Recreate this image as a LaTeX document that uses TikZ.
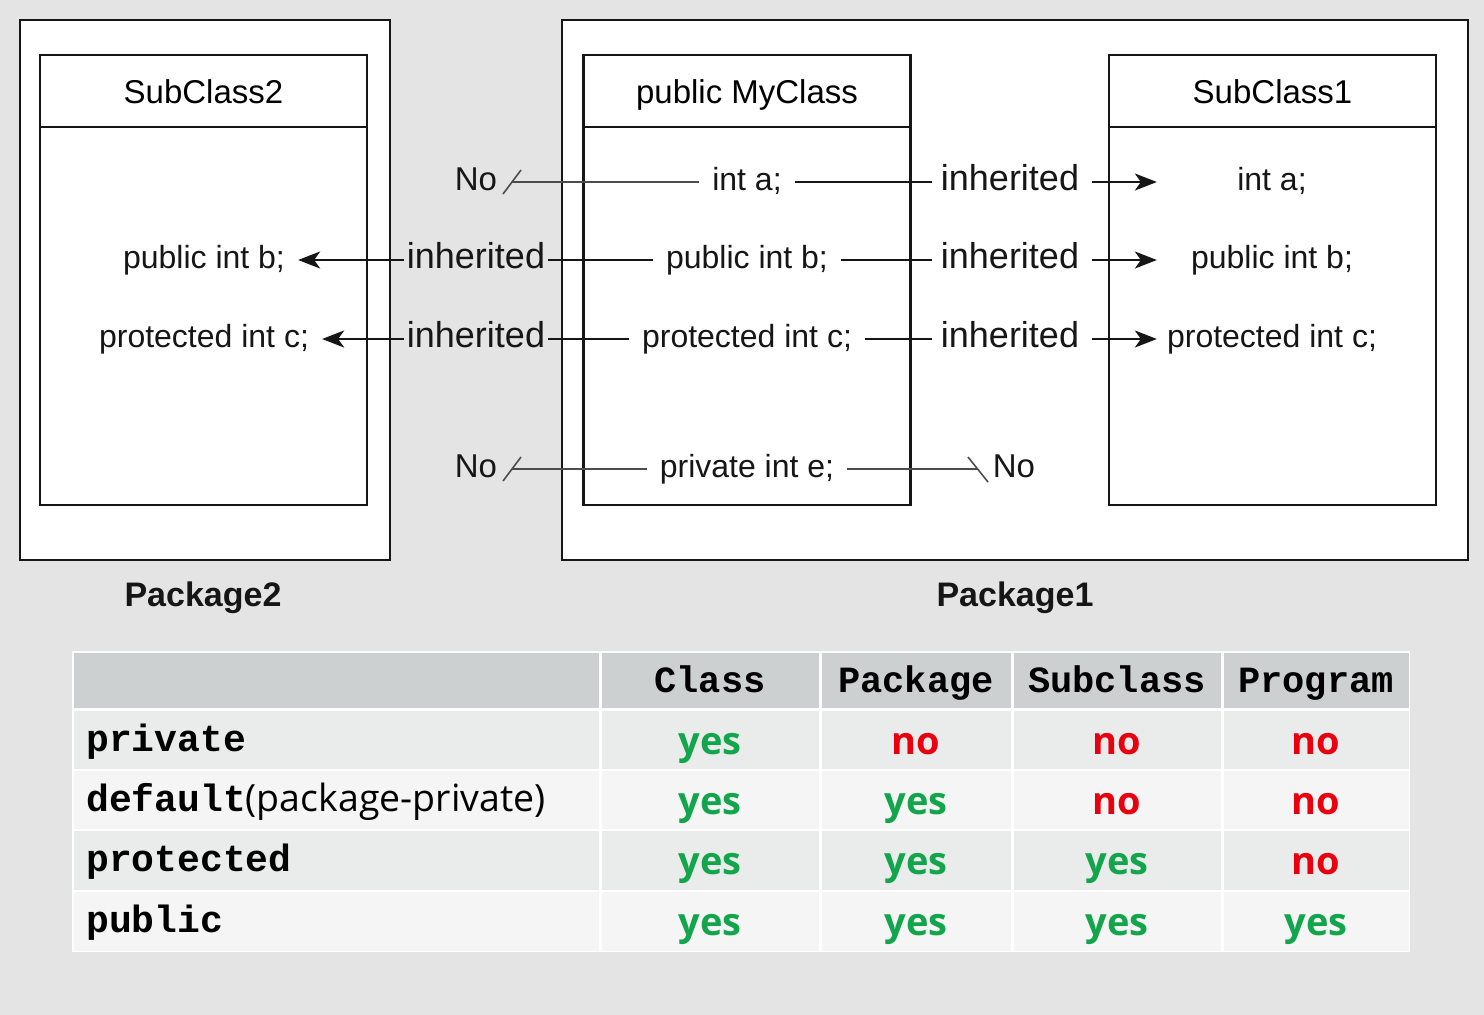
\documentclass[tikz,border=0pt]{standalone}
\usepackage{fontspec}
\setmainfont{Liberation Sans}
\newfontfamily\monofam{Liberation Mono}
\newfontfamily\opensans{Open Sans}
\usetikzlibrary{arrows.meta,calc}

\definecolor{bggray}{HTML}{E4E4E4}
\definecolor{inkgray}{HTML}{161616}
\definecolor{hdrgray}{HTML}{CDD0D1}
\definecolor{rowA}{HTML}{EAECEC}
\definecolor{rowB}{HTML}{F5F5F5}
\definecolor{yesgreen}{HTML}{13A54B}
\definecolor{nored}{HTML}{E8000F}

\tikzset{
  pkgbox/.style={draw=inkgray, line width=2.5pt, fill=white, inner sep=0pt},
  clsbox/.style={draw=inkgray, line width=2.5pt, fill=white, inner sep=0pt,
                 minimum width=327pt},
  clshead/.style={clsbox, minimum height=72pt, font=\fontsize{33}{38}\selectfont,
                  text height=24pt, text depth=0pt},
  clsbody/.style={clsbox, minimum height=378pt},
  field/.style={font=\fontsize{32}{38}\selectfont, text=inkgray,
                text height=24pt, text depth=7pt, inner ysep=0pt, inner xsep=13pt},
  farfield/.style={field, inner xsep=10pt},
  inhR/.style={font=\fontsize{36}{40}\selectfont, text=inkgray,
               text height=24pt, text depth=7pt, inner ysep=0pt, inner xsep=9pt},
  inhL/.style={inhR, inner xsep=2.5pt},
  nolbl/.style={font=\fontsize{33}{38}\selectfont, text=inkgray,
                text height=24pt, text depth=7pt, inner sep=0pt},
  pkglbl/.style={font=\bfseries\fontsize{34}{38}\selectfont, text=inkgray},
  link/.style={line width=2pt, draw=inkgray},
  nolink/.style={line width=1.6pt, draw=black!70},
  arr/.style={link, -{Stealth[length=22pt,width=17pt,inset=6pt]}},
  hdrtxt/.style={font=\monofam\bfseries\fontsize{37}{40}\selectfont, anchor=base, inner sep=0pt},
  rowtxt/.style={font=\monofam\bfseries\fontsize{38}{40}\selectfont, anchor=base west, inner sep=0pt},
  yes/.style={font=\opensans\bfseries\fontsize{38}{42}\selectfont, text=yesgreen, anchor=base, inner sep=0pt},
  no/.style={font=\opensans\bfseries\fontsize{38}{42}\selectfont, text=nored, anchor=base, inner sep=0pt},
}

\begin{document}
\begin{tikzpicture}[x=1pt,y=-1pt]
% canvas
\fill[bggray] (0,0) rectangle (1484,1015);
\useasboundingbox (0,0) rectangle (1484,1015);

% packages
\node[pkgbox, minimum width=370pt, minimum height=540pt] (pk2) at (205,290) {};
\node[pkgbox, minimum width=906pt, minimum height=540pt] (pk1) at (1015,290) {};
\node[pkglbl] (pk2lbl) at (203,598) {Package2};
\node[pkglbl] (pk1lbl) at (1015,598) {Package1};

% classes
\node[clshead] (h2) at (203.5,91) {SubClass2};
\node[clsbody] (b2) at (203.5,316) {};
\node[clshead] (hm) at (747,91) {public MyClass};
\node[clsbody] (bm) at (747,316) {};
\node[clshead] (h1) at (1272.5,91) {SubClass1};
\node[clsbody] (b1) at (1272.5,316) {};

% members of MyClass
\node[field] (ma) at (747,182) {int a;};
\node[field] (mb) at (747,260) {public int b;};
\node[field] (mc) at (747,339) {protected int c;};
\node[field] (me) at (747,469) {private int e;};

% members of SubClass1
\node[farfield] (sa) at (1272,182) {int a;};
\node[farfield] (sb) at (1272,260) {public int b;};
\node[farfield] (sc) at (1272,339) {protected int c;};

% members of SubClass2
\node[field] (tb) at (204,260) {public int b;};
\node[field] (tc) at (204,339) {protected int c;};

% labels towards SubClass1
\node[inhR] (ra) at (1010,182) {inherited};
\node[inhR] (rb) at (1010,260) {inherited};
\node[inhR] (rc) at (1010,339) {inherited};
\node[nolbl] (re) at (1014,469) {No};

% labels towards SubClass2
\node[nolbl] (la) at (476,182) {No};
\node[inhL] (lb) at (476,260) {inherited};
\node[inhL] (lc) at (476,339) {inherited};
\node[nolbl] (le) at (476,469) {No};

% blocked ends
\coordinate (xa) at (512,182);
\coordinate (xe) at (512,469);
\coordinate (xr) at (978,469);

% inheritance into SubClass1
\draw[link] (ma.east) -- (ra.west);
\draw[arr, shorten <=4pt] (ra.east) -- (ra.east -| sc.west);
\draw[link] (mb.east) -- (rb.west);
\draw[arr, shorten <=4pt] (rb.east) -- (rb.east -| sc.west);
\draw[link] (mc.east) -- (rc.west);
\draw[arr, shorten <=4pt] (rc.east) -- (rc.east -| sc.west);

% inheritance into SubClass2
\draw[link] (mb.west) -- (lb.east);
\draw[arr] (lb.west) -- (tb.east);
\draw[link] (mc.west) -- (lc.east);
\draw[arr] (lc.west) -- (tc.east);

% members that are not inherited
\draw[nolink] (ma.west) -- (xa);
\draw[nolink] ($(xa)+(-9,12)$) -- ($(xa)+(9,-12)$);
\draw[nolink] (me.west) -- (xe);
\draw[nolink] ($(xe)+(-9,12)$) -- ($(xe)+(9,-12)$);
\draw[nolink] (me.east) -- (xr);
\draw[nolink] ($(xr)+(-10,-12)$) -- ($(xr)+(10,13)$);

% access table
\fill[white] (72,651) rectangle (1410,952);
\foreach \a/\b in {72/600,600/820,820/1012,1012/1222,1222/1410}{
  \fill[hdrgray] (\a+1.5,652.5) rectangle (\b-1.5,708);
  \foreach \t/\u/\c in {711/769/rowA,771/829/rowB,831/890/rowA,892/950.5/rowB}{
    \fill[\c] (\a+1.5,\t) rectangle (\b-1.5,\u);
  }
}

\node[hdrtxt] (cclass) at (710,692) {Class};
\node[hdrtxt] (cpack) at (916,692) {Package};
\node[hdrtxt] (csub) at (1117,692) {Subclass};
\node[hdrtxt] (cprog) at (1316,692) {Program};

\node[rowtxt] (rpriv) at (86,751) {private};
\node[rowtxt] (rdef) at (86,811) {default{\opensans\mdseries\fontsize{37.5}{40}\selectfont(package-private)}};
\node[rowtxt] (rprot) at (86,871) {protected};
\node[rowtxt] (rpub) at (86,932) {public};

\node[yes] (v11) at (710,754) {yes};
\node[no]  (v12) at (916,754) {no};
\node[no]  (v13) at (1117,754) {no};
\node[no]  (v14) at (1316,754) {no};

\node[yes] (v21) at (710,814) {yes};
\node[yes] (v22) at (916,814) {yes};
\node[no]  (v23) at (1117,814) {no};
\node[no]  (v24) at (1316,814) {no};

\node[yes] (v31) at (710,874) {yes};
\node[yes] (v32) at (916,874) {yes};
\node[yes] (v33) at (1117,874) {yes};
\node[no]  (v34) at (1316,874) {no};

\node[yes] (v41) at (710,935) {yes};
\node[yes] (v42) at (916,935) {yes};
\node[yes] (v43) at (1117,935) {yes};
\node[yes] (v44) at (1316,935) {yes};
\end{tikzpicture}
\end{document}
